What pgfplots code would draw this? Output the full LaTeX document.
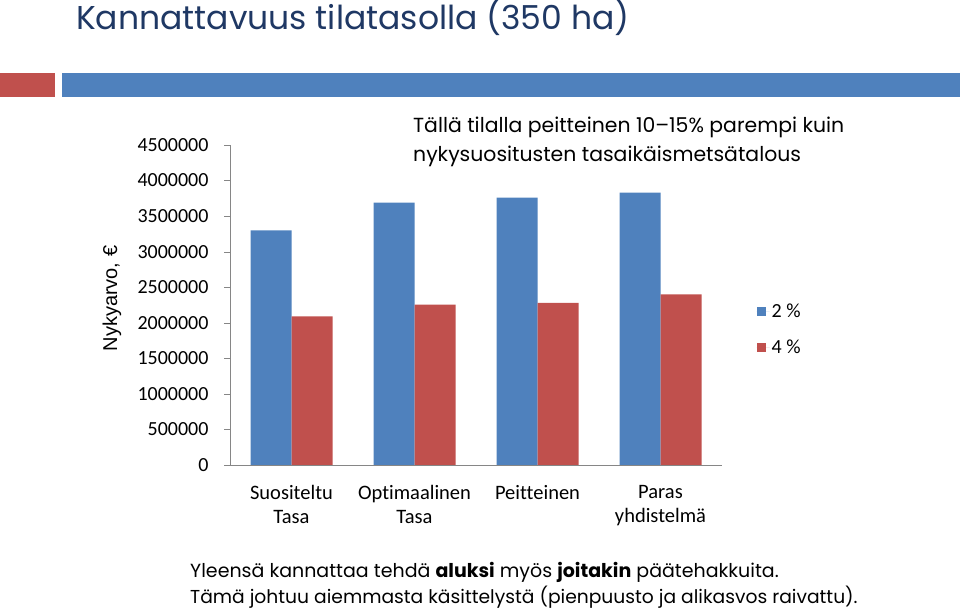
\documentclass[border=0pt]{standalone}
\usepackage{fontspec}
\setmainfont{Carlito}[Ligatures=NoCommon]
\newfontfamily\gothic{Poppins}
\newfontfamily\arial{Liberation Sans}
\usepackage{pgfplots}
\pgfplotsset{compat=1.18}

\definecolor{barblue}{RGB}{79,129,189}
\definecolor{barred}{RGB}{192,80,77}
\definecolor{titleblue}{RGB}{31,56,100}
\definecolor{axisgray}{RGB}{134,134,134}

\begin{document}
\begin{tikzpicture}[x=1pt,y=1pt]
\useasboundingbox (0,0) rectangle (960,612);
% header
\node[anchor=base west, text=titleblue, inner sep=0pt,
  font=\gothic\fontsize{33}{38}\selectfont] at (76,582) {Kannattavuus tilatasolla (350 ha)};
\fill[barred] (0,515) rectangle (55,539);
\fill[barblue] (62,515) rectangle (960,539);

\begin{axis}[
  at={(230pt,147pt)}, anchor=south west,
  scale only axis, width=492pt, height=320pt,
  ybar=0pt, bar width=41pt,
  xmin=-0.5, xmax=3.5, ymin=0, ymax=4500000,
  xtick=data,
  xticklabels={{Suositeltu\\Tasa},{Optimaalinen\\Tasa},Peitteinen,{Paras\\yhdistelmä}},
  x tick label style={align=center, font=\fontsize{20.5}{23.5}\selectfont, yshift=-11pt},
  major x tick style={draw=none},
  ytick={0,500000,...,4500000},
  scaled y ticks=false,
  y tick label style={font=\fontsize{20}{22}\selectfont, /pgf/number format/fixed, /pgf/number format/1000 sep={}, xshift=-12pt},
  /pgf/number format/assume math mode=true,
  axis x line*=bottom, axis y line*=left,
  axis line style={draw=axisgray, -},
  tick align=outside, major tick length=6pt,
  ytick style={draw=axisgray},
  ylabel={\arial Nykyarvo, €},
  ylabel style={font=\fontsize{20}{22}\selectfont, at={(axis description cs:-0.24,0.52)}, anchor=center, rotate=0},
  legend style={at={(1.064,0.423)}, anchor=west, draw=none, fill=none,
    font=\fontsize{20}{22}\selectfont, row sep=17pt},
  legend image code/.code={\fill[#1] (0pt,-4pt) rectangle (9pt,5pt); \path (0pt,0pt) -- (13pt,0pt);},
  every axis plot/.append style={draw=none},
]
\addplot[fill=barblue] coordinates {(0,3300000) (1,3690000) (2,3760000) (3,3830000)};
\addplot[fill=barred] coordinates {(0,2090000) (1,2255000) (2,2280000) (3,2400000)};
\legend{2 \%,4 \%}
\end{axis}

% annotation
\node[anchor=base west, inner sep=0pt, font=\gothic\fontsize{20.4}{24}\selectfont] at (413,479)
  {Tällä tilalla peitteinen 10–15\% parempi kuin};
\node[anchor=base west, inner sep=0pt, font=\gothic\fontsize{20.4}{24}\selectfont] at (413,450)
  {nykysuositusten tasaikäismetsätalous};
% footer
\node[anchor=base west, inner sep=0pt, font=\gothic\fontsize{19}{24}\selectfont] at (190,34)
  {Yleensä kannattaa tehdä \textbf{aluksi} myös \textbf{joitakin} päätehakkuita.};
\node[anchor=base west, inner sep=0pt, font=\gothic\fontsize{18.7}{24}\selectfont] at (190,8)
  {Tämä johtuu aiemmasta käsittelystä (pienpuusto ja alikasvos raivattu).};
\end{tikzpicture}
\end{document}
